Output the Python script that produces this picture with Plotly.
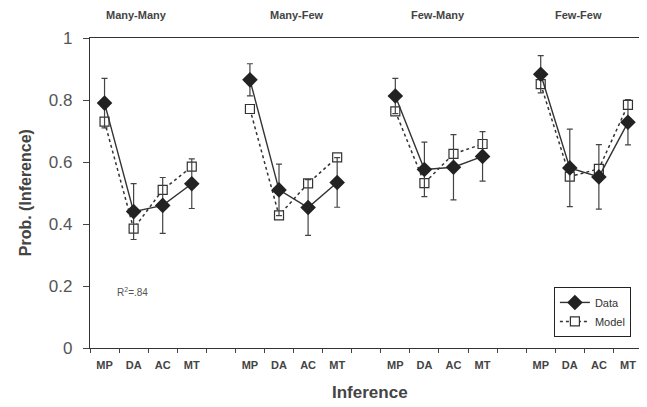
import plotly.graph_objects as go

conditions = ["Many-Many", "Many-Few", "Few-Many", "Few-Few"]
inferences = ["MP", "DA", "AC", "MT"]

data_mm = [0.79, 0.44, 0.46, 0.53]
data_mf = [0.865, 0.51, 0.453, 0.534]
data_fm = [0.813, 0.576, 0.583, 0.618]
data_ff = [0.883, 0.581, 0.552, 0.728]

err_mm = [0.08, 0.09, 0.09, 0.08]
err_mf = [0.052, 0.083, 0.09, 0.08]
err_fm = [0.057, 0.088, 0.105, 0.08]
err_ff = [0.06, 0.125, 0.104, 0.073]

model_mm = [0.73, 0.385, 0.51, 0.585]
model_mf = [0.771, 0.428, 0.531, 0.615]
model_fm = [0.763, 0.532, 0.626, 0.658]
model_ff = [0.851, 0.553, 0.578, 0.784]

r2_text = "R<sup>2</sup>=.84"

data_groups = [data_mm, data_mf, data_fm, data_ff]
err_groups = [err_mm, err_mf, err_fm, err_ff]
model_groups = [model_mm, model_mf, model_fm, model_ff]

# x positions: 4 inferences per condition, 1-unit gap between conditions
xs, yd, ed, ym, tickvals, ticktext = [], [], [], [], [], []
for g in range(len(conditions)):
    for i in range(len(inferences)):
        x = g * 5 + i + 1
        xs.append(x)
        yd.append(data_groups[g][i])
        ed.append(err_groups[g][i])
        ym.append(model_groups[g][i])
        tickvals.append(x)
        ticktext.append(inferences[i])
    xs.append(None); yd.append(None); ed.append(None); ym.append(None)

fig = go.Figure()
fig.add_trace(go.Scatter(
    x=xs, y=ym, name="Model", mode="lines+markers",
    line=dict(color="#333333", width=1.5, dash="dot"),
    marker=dict(symbol="square", size=9, color="white",
                line=dict(color="#333333", width=1.2)),
))
fig.add_trace(go.Scatter(
    x=xs, y=yd, name="Data", mode="lines+markers",
    line=dict(color="#333333", width=1.4),
    marker=dict(symbol="diamond", size=12, color="#222222"),
    error_y=dict(type="data", array=ed, visible=True, color="#444444",
                 thickness=1.2, width=3),
))

minor_vals = [k + 0.5 for k in range(0, 20)]

# page body adds an 8px offset, so the figure is sized/margined to compensate
fig.update_layout(
    width=631, height=399,
    margin=dict(l=82, r=0, t=30, b=59, autoexpand=False),
    plot_bgcolor="white", paper_bgcolor="white",
    font=dict(family="Liberation Sans, Arial, sans-serif", color="#444444"),
    showlegend=True,
    legend=dict(x=0.845, y=0.197, xanchor="left", yanchor="top",
                bordercolor="#222222", borderwidth=1, bgcolor="white",
                font=dict(size=11, color="#333333"),
                traceorder="reversed", tracegroupgap=0,
                itemwidth=30),
)
fig.update_xaxes(
    range=[0.5, 19.38], showgrid=False, zeroline=False, automargin=False,
    showline=True, linecolor="#333333", linewidth=1.2, mirror=True,
    tickmode="array", tickvals=tickvals, ticktext=ticktext,
    ticks="", ticklabelstandoff=7,
    tickfont=dict(size=11, family="Liberation Sans, Arial, sans-serif",
                  color="#444444", weight="bold"),
    minor=dict(tickmode="array", tickvals=minor_vals, ticks="outside",
               ticklen=4, tickcolor="#444444", tickwidth=1),
)
fig.update_yaxes(
    range=[0, 1], showgrid=False, zeroline=False, automargin=False,
    showline=True, linecolor="#333333", linewidth=1.2,
    tickmode="array", tickvals=[0, 0.2, 0.4, 0.6, 0.8, 1],
    ticktext=["0", "0.2", "0.4", "0.6", "0.8", "1"],
    ticks="outside", ticklen=6, tickcolor="#444444",
    ticklabelstandoff=7,
    tickfont=dict(size=17, color="#555555"),
)

title_x = [0.084, 0.377, 0.634, 0.889]
for g, name in enumerate(conditions):
    fig.add_annotation(x=title_x[g], y=1.074, xref="paper", yref="paper",
                       xanchor="center", yanchor="middle",
                       text="<b>" + name + "</b>", showarrow=False,
                       font=dict(size=11, color="#444444"))

fig.add_annotation(x=1.35, y=0.18, xref="x", yref="y", text=r2_text,
                   showarrow=False, xanchor="left", yanchor="middle",
                   font=dict(size=10, color="#555555"))
fig.add_annotation(x=0.51, y=-0.145, xref="paper", yref="paper",
                   xanchor="center", yanchor="middle",
                   text="<b>Inference</b>", showarrow=False,
                   font=dict(size=17, color="#444444"))
fig.add_annotation(x=-0.118, y=0.5, xref="paper", yref="paper",
                   xanchor="center", yanchor="middle",
                   text="<b>Prob. (Inference)</b>", showarrow=False,
                   textangle=-90, font=dict(size=16, color="#444444"))

fig.write_html("out.html")
